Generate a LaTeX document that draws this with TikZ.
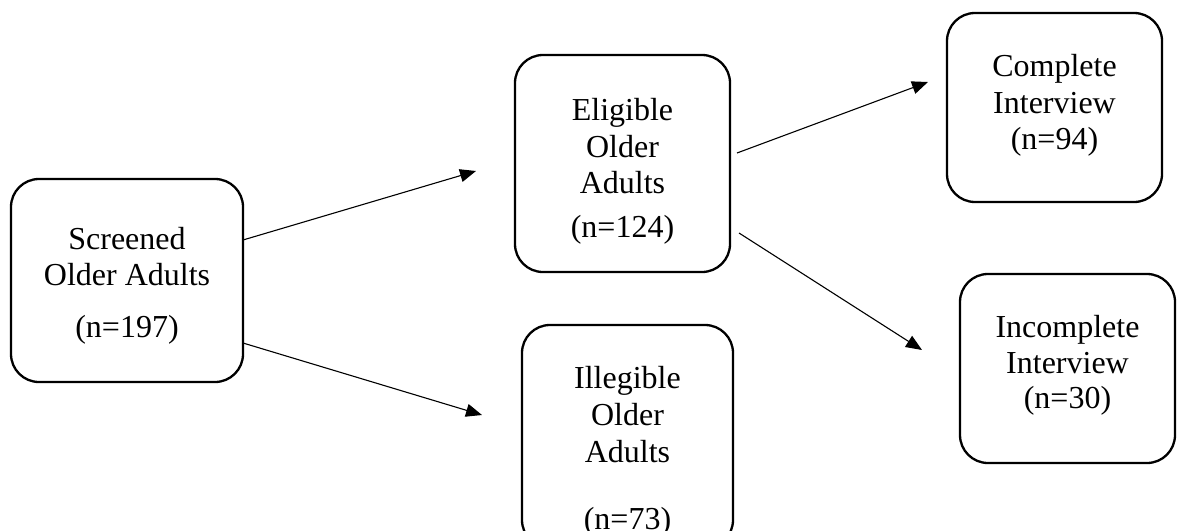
\documentclass[tikz,border=0pt]{standalone}
\usepackage{fontspec}
\setmainfont{Liberation Serif}
\usetikzlibrary{arrows.meta}
\begin{document}
\begin{tikzpicture}[x=1pt,y=-1pt,
  box/.style={draw, line width=2.3pt, rounded corners=28pt, inner sep=0pt},
  lbl/.style={anchor=base, inner sep=0pt, font=\fontsize{32}{37}\selectfont},
  conn/.style={line width=1.1pt, -{Triangle[length=16pt,width=13pt]}}]
\useasboundingbox (0,0) rectangle (1180,530);
\clip (0,0) rectangle (1180,530);
\fill[white] (0,0) rectangle (1180,530);
% boxes
\node[box, minimum width=232pt, minimum height=203pt] (scr) at (127,280.5) {};
\node[box, minimum width=215pt, minimum height=217pt] (eli) at (622.5,163.5) {};
\node[box, minimum width=211pt, minimum height=223pt] (ill) at (627.5,436.5) {};
\node[box, minimum width=215pt, minimum height=189pt] (com) at (1054.5,107.5) {};
\node[box, minimum width=215pt, minimum height=189pt] (inc) at (1067.5,368.5) {};
% texts
\node[lbl] (scrA) at (127,249) {Screened};
\node[lbl] (scrB) at (127,285) {Older Adults};
\node[lbl] (scrC) at (127,337) {(n=197)};
\node[lbl] (eliA) at (622.5,120) {Eligible};
\node[lbl] (eliB) at (622.5,157) {Older};
\node[lbl] (eliC) at (622.5,193) {Adults};
\node[lbl] (eliD) at (622.5,237) {(n=124)};
\node[lbl] (illA) at (627.5,388) {Illegible};
\node[lbl] (illB) at (627.5,425) {Older};
\node[lbl] (illC) at (627.5,462) {Adults};
\node[lbl] (illD) at (627.5,529) {(n=73)};
\node[lbl] (comA) at (1054.5,76) {Complete};
\node[lbl] (comB) at (1054.5,113) {Interview};
\node[lbl] (comC) at (1054.5,149) {(n=94)};
\node[lbl] (incA) at (1067.5,337) {Incomplete};
\node[lbl] (incB) at (1067.5,373) {Interview};
\node[lbl] (incC) at (1067.5,408) {(n=30)};
% connector ends
\coordinate (s1) at (243,240);
\coordinate (e1) at (476,171);
\coordinate (s2) at (243,343);
\coordinate (e2) at (482,415);
\coordinate (s3) at (737,153);
\coordinate (e3) at (928,82);
\coordinate (s4) at (739,233);
\coordinate (e4) at (922,350);
\draw[conn] (s1) -- (e1);
\draw[conn] (s2) -- (e2);
\draw[conn] (s3) -- (e3);
\draw[conn] (s4) -- (e4);
\end{tikzpicture}
\end{document}
